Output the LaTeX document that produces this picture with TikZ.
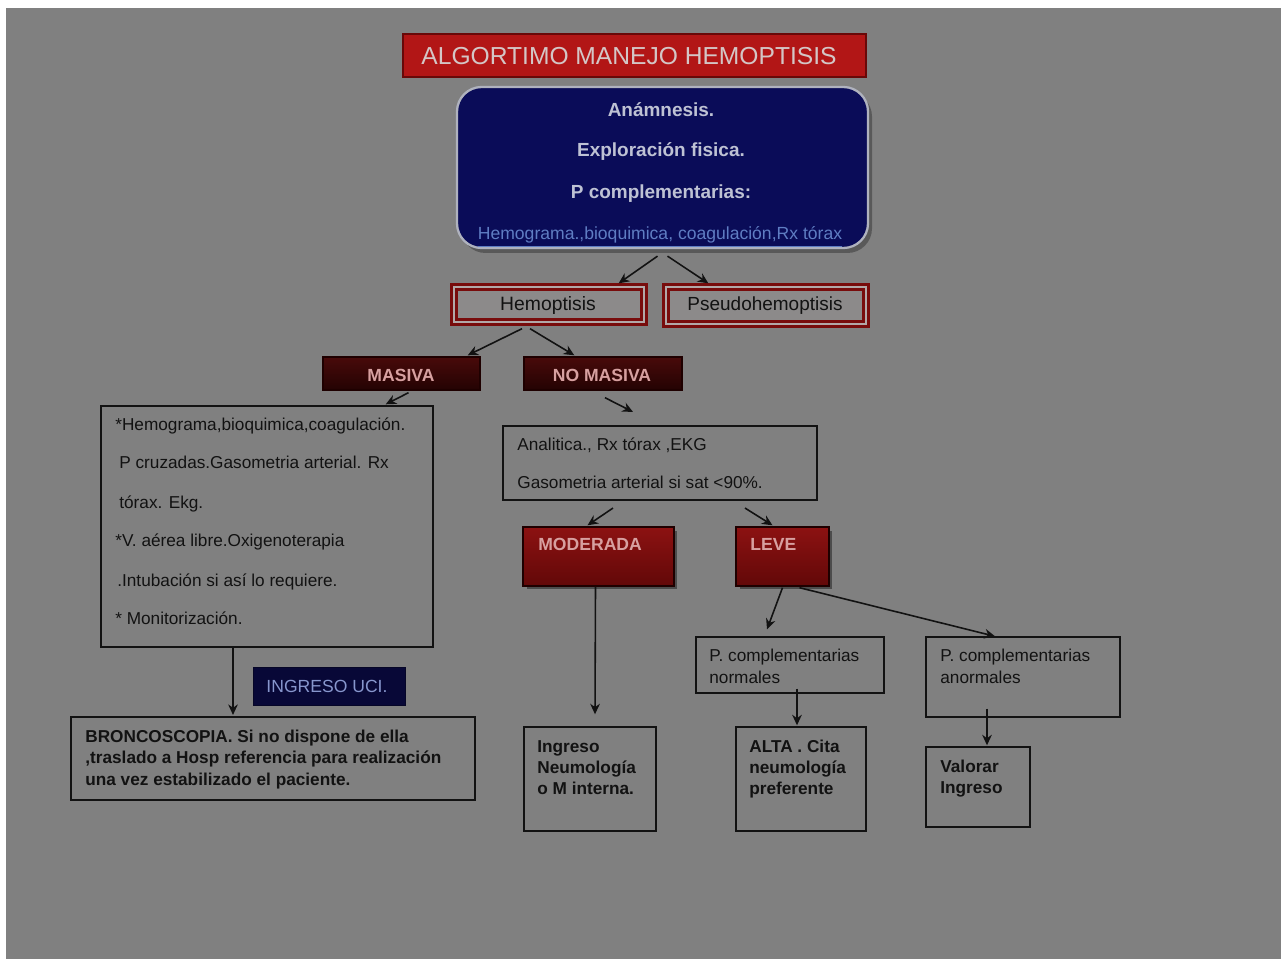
\documentclass[tikz,border=0pt]{standalone}
\usepackage{fontspec}
\setmainfont{Liberation Sans}
\usetikzlibrary{fit, calc, arrows.meta}

\definecolor{bggray}{RGB}{128,128,128}
\definecolor{titlered}{RGB}{178,22,22}
\definecolor{titleline}{RGB}{105,8,8}
\definecolor{titletext}{RGB}{212,198,198}
\definecolor{navy}{RGB}{10,12,88}
\definecolor{navyline}{RGB}{175,178,190}
\definecolor{navytext}{RGB}{190,194,212}
\definecolor{linkblue}{RGB}{95,125,195}
\definecolor{masivatop}{RGB}{72,10,10}
\definecolor{masivabot}{RGB}{36,3,3}
\definecolor{modtop}{RGB}{140,18,18}
\definecolor{modbot}{RGB}{98,8,8}
\definecolor{barline}{RGB}{30,0,0}
\definecolor{pinktext}{RGB}{215,160,160}
\definecolor{ucinavy}{RGB}{8,8,55}
\definecolor{ucitext}{RGB}{135,150,205}
\definecolor{hemored}{RGB}{120,12,12}
\definecolor{hemolight}{RGB}{178,168,168}
\definecolor{hemofill}{RGB}{140,138,138}
\definecolor{ink}{RGB}{18,18,18}

\begin{document}
\begin{tikzpicture}[x=0.02cm, y=-0.02cm,
  frame/.style={draw=ink, line width=0.8pt, inner sep=0pt},
  heavyframe/.style={frame, line width=1.2pt},
  dblbox/.style={draw=hemored, double=hemolight, double distance=1pt, line width=1.9pt, fill=hemofill, inner sep=0pt},
  darkbar/.style={draw=barline, line width=0.8pt, top color=masivatop, bottom color=masivabot, inner sep=0pt},
  redbar/.style={draw=barline, line width=0.8pt, top color=modtop, bottom color=modbot, inner sep=0pt},
  txt/.style={inner sep=0pt, anchor=base west, text=ink, font=\fontsize{9.8}{11}\selectfont},
  boldtxt/.style={txt, font=\bfseries\fontsize{9.8}{11}\selectfont},
  infotxt/.style={inner sep=0pt, anchor=base, text=navytext, font=\bfseries\fontsize{10.8}{12}\selectfont},
  bartxt/.style={inner sep=0pt, text=pinktext, font=\bfseries\fontsize{10}{12}\selectfont},
  arr/.style={draw=ink, line width=0.9pt, -{Stealth[length=6pt,width=5.5pt]}}]

\useasboundingbox (0,0) rectangle (1281,959);
\fill[white] (0,0) rectangle (1281,959);
\fill[bggray] (6,8) rectangle (1281,959);

% title and first box
\node[fit={(403,34) (866,77)}, fill=titlered, draw=titleline, line width=1pt, inner sep=0pt] (title) {};
\node[inner sep=0pt, text=titletext, font=\fontsize{14}{16}\selectfont] (titletxt) at (629,56) {ALGORTIMO MANEJO HEMOPTISIS};

\fill[black!65, rounded corners=14pt] (461,92) rectangle (872,253);
\node[fit={(457,87) (868,248)}, fill=navy, draw=navyline, line width=1.3pt, rounded corners=14pt, inner sep=0pt] (info) {};
\node[infotxt] (anam) at (661,117) {Anámnesis.};
\node[infotxt] (explo) at (661,157) {Exploración fisica.};
\node[infotxt] (pcomp) at (661,199) {P complementarias:};
\node[inner sep=0pt, anchor=base, text=linkblue, font=\fontsize{10}{12}\selectfont] (link) at (660,240) {\underline{Hemograma.,bioquimica, coagulación,Rx tórax}};

% hemoptisis / pseudohemoptisis
\node[dblbox, fit={(454,287) (644,322)}] (hemo) {};
\node[txt, anchor=base, font=\fontsize{11}{12}\selectfont] (hemotxt) at (548,311) {Hemoptisis};
\node[dblbox, fit={(666,287) (866,324)}] (pseudo) {};
\node[txt, anchor=base, font=\fontsize{10.8}{12}\selectfont] (pseudotxt) at (765,311) {Pseudohemoptisis};

\node[darkbar, fit={(323,357) (480,390)}] (masiva) {};
\node[bartxt] (masivatxt) at (401,375) {MASIVA};
\node[darkbar, fit={(524,357) (682,390)}] (nomasiva) {};
\node[bartxt] (nomasivatxt) at (602,375) {NO MASIVA};

% rama masiva
\node[frame, fit={(101,406) (433,647)}] (masbox) {};
\foreach \x/\y/\t [count=\i] in {115/430/{*Hemograma,bioquimica,coagulación.},
    119/468/{P cruzadas.Gasometria arterial. Rx}, 119/508/{tórax. Ekg.},
    115/546/{*V. aérea libre.Oxigenoterapia}, 117/586/{.Intubación si así lo requiere.},
    115/624/{* Monitorización.}}
  \node[txt] (mas\i) at (\x,\y) {\t};

\node[fit={(253,667) (405,705)}, fill=ucinavy, draw=ucinavy!70!black, inner sep=0pt] (uci) {};
\node[inner sep=0pt, text=ucitext, font=\fontsize{10}{12}\selectfont] (ucitxt) at (327,686) {INGRESO UCI.};

\node[heavyframe, fit={(71,717) (475,800)}] (bronco) {};
\foreach \y/\t [count=\i] in {742/{BRONCOSCOPIA. Si no dispone de ella},
    763/{,traslado a Hosp referencia para realización}, 785/{una vez estabilizado el paciente.}}
  \node[boldtxt] (bro\i) at (85,\y) {\t};

% rama no masiva
\node[heavyframe, fit={(503,426) (817,500)}] (analit) {};
\node[txt] (an1) at (517,450) {Analitica., Rx tórax ,EKG};
\node[txt] (an2) at (517,488) {Gasometria arterial si sat <90\%.};

\fill[black!70] (527,531) rectangle (677,589);
\node[redbar, fit={(523,527) (674,586)}] (moder) {};
\node[bartxt, anchor=west] (modertxt) at (538,544) {MODERADA};
\fill[black!70] (740,531) rectangle (832,589);
\node[redbar, fit={(736,527) (829,586)}] (leve) {};
\node[bartxt, anchor=west] (levetxt) at (750,544) {LEVE};

\node[frame, fit={(696,637) (884,693)}] (pnorm) {};
\node[txt] (pn1) at (709,661) {P. complementarias};
\node[txt] (pn2) at (709,683) {normales};
\node[frame, fit={(926,637) (1120,717)}] (panorm) {};
\node[txt] (pa1) at (940,661) {P. complementarias};
\node[txt] (pa2) at (940,683) {anormales};

\node[frame, fit={(524,727) (656,831)}] (neumo) {};
\foreach \y/\t [count=\i] in {752/Ingreso, 773/Neumología, 794/{o M interna.}}
  \node[boldtxt] (neu\i) at (537,\y) {\t};
\node[frame, fit={(736,727) (866,831)}] (alta) {};
\foreach \y/\t [count=\i] in {752/{ALTA . Cita}, 773/neumología, 794/preferente}
  \node[boldtxt] (alt\i) at (749,\y) {\t};
\node[frame, fit={(926,747) (1030,827)}] (valorar) {};
\node[boldtxt] (val1) at (940,772) {Valorar};
\node[boldtxt] (val2) at (940,793) {Ingreso};

% flechas
\draw[arr] ($(info.south)+(-5,7)$) -- ($(hemo.north east)+(-27,-2)$);
\draw[arr] ($(info.south)+(5,7)$) -- ($(pseudo.north west)+(44,-2)$);
\draw[arr] ($(hemo.south)+(-27,5)$) -- ($(masiva.north east)+(-13,-1)$);
\draw[arr] ($(hemo.south)+(-19,5)$) -- ($(nomasiva.north west)+(51,-1)$);
\draw[arr] ($(masiva.south)+(7,2)$) -- ($(masbox.north east)+(-48,-1)$);
\draw[arr] ($(nomasiva.south)+(2,7)$) -- ($(analit.north)+(-27,-13)$);
\draw[arr] ($(masbox.south)+(-34,0)$) -- ($(bronco.north)+(-40,-1)$);
\draw[arr] ($(analit.south)+(-47,7)$) -- ($(moder.north)+(-11,-1)$);
\draw[arr] ($(analit.south)+(85,7)$) -- ($(leve.north)+(-10,-1)$);
\draw[arr] ($(moder.south)+(-3,0)$) -- ($(neumo.north)+(5,-12)$);
\draw[arr] ($(leve.south)+(0,1)$) -- ($(pnorm.north)+(-23,-7)$);
\draw[arr] ($(leve.south)+(17,1)$) -- ($(panorm.north)+(-28,0)$);
\draw[arr] ($(pnorm.south)+(7,-5)$) -- ($(alta.north)+(-4,-1)$);
\draw[arr] ($(panorm.south)+(-36,-9)$) -- ($(valorar.north)+(9,-1)$);

\end{tikzpicture}
\end{document}
